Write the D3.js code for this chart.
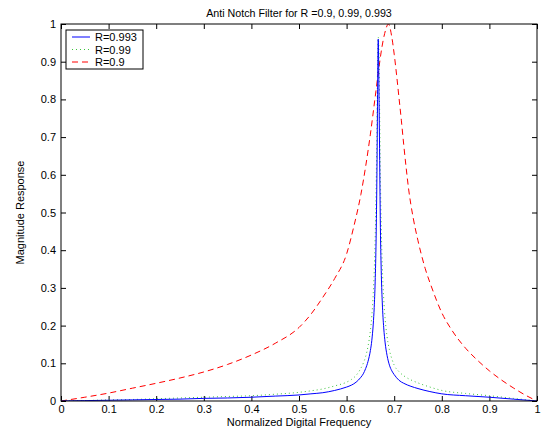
<!DOCTYPE html>
<html>
  <script src='https://d3js.org/d3.v7.min.js'></script>
  <style>
    body { margin: 0; background: #ffffff; }
    text { font-family: "Liberation Sans", Arial, sans-serif; }
  </style>
  <body onload='init()'>
<script>
      // ---------------------------
      // DATA
      // ---------------------------
      var freqNarrow = [0, 0.05, 0.1, 0.15, 0.2, 0.25, 0.3, 0.35, 0.4, 0.45, 0.5, 0.525, 0.55, 0.575, 0.6, 0.61, 0.62, 0.63, 0.635, 0.64, 0.645, 0.65, 0.653, 0.656, 0.658, 0.66, 0.662, 0.664, 0.665, 0.6665, 0.668, 0.669, 0.671, 0.673, 0.675, 0.678, 0.681, 0.685, 0.69, 0.695, 0.7, 0.71, 0.72, 0.735, 0.75, 0.775, 0.8, 0.85, 0.9, 0.95, 1];
      var magR0993 = [0, 0.001, 0.002, 0.003, 0.004, 0.005, 0.007, 0.008, 0.01, 0.013, 0.016, 0.019, 0.022, 0.028, 0.037, 0.042, 0.05, 0.063, 0.072, 0.086, 0.105, 0.134, 0.161, 0.204, 0.248, 0.316, 0.43, 0.64, 0.8, 0.96, 0.82, 0.7, 0.46, 0.333, 0.26, 0.194, 0.154, 0.121, 0.095, 0.08, 0.07, 0.055, 0.047, 0.039, 0.033, 0.025, 0.019, 0.014, 0.01, 0.005, 0];
      var magR099 = [0, 0.001, 0.003, 0.004, 0.006, 0.008, 0.01, 0.012, 0.014, 0.018, 0.023, 0.027, 0.032, 0.04, 0.05, 0.057, 0.068, 0.087, 0.1, 0.118, 0.145, 0.187, 0.226, 0.285, 0.343, 0.43, 0.56, 0.76, 0.88, 0.965, 0.92, 0.81, 0.595, 0.45, 0.358, 0.271, 0.217, 0.171, 0.135, 0.112, 0.095, 0.078, 0.067, 0.056, 0.048, 0.037, 0.028, 0.02, 0.014, 0.007, 0];
      var freqWide = [0, 0.05, 0.1, 0.15, 0.2, 0.25, 0.3, 0.35, 0.4, 0.45, 0.5, 0.525, 0.55, 0.575, 0.6, 0.615, 0.63, 0.64, 0.65, 0.66, 0.667, 0.674, 0.68, 0.688, 0.695, 0.7, 0.705, 0.71, 0.715, 0.72, 0.725, 0.73, 0.74, 0.75, 0.765, 0.78, 0.8, 0.82, 0.85, 0.875, 0.9, 0.925, 0.95, 0.975, 1];
      var magR09 = [0, 0.01, 0.021, 0.034, 0.047, 0.061, 0.077, 0.097, 0.122, 0.153, 0.195, 0.23, 0.275, 0.325, 0.39, 0.462, 0.548, 0.622, 0.708, 0.806, 0.875, 0.937, 0.975, 1.0, 0.965, 0.92, 0.865, 0.805, 0.745, 0.68, 0.62, 0.565, 0.485, 0.425, 0.352, 0.297, 0.234, 0.19, 0.14, 0.108, 0.08, 0.056, 0.035, 0.016, 0];
      var xTicks = [0, 0.1, 0.2, 0.3, 0.4, 0.5, 0.6, 0.7, 0.8, 0.9, 1];
      var yTicks = [0, 0.1, 0.2, 0.3, 0.4, 0.5, 0.6, 0.7, 0.8, 0.9, 1];
      var legendNames = ["R=0.993", "R=0.99", "R=0.9"];

      function init() {
        // ---------------------------
        // CONSTANTS
        // ---------------------------
        var canvasWidth = 545;
        var canvasHeight = 428;
        var left = 61, right = 537, top = 24, bottom = 401;
        var tickLen = 5;
        var fontSize = 11;

        var series = [
          { name: legendNames[0], x: freqNarrow, y: magR0993, colour: "#0000ff", dash: null },
          { name: legendNames[1], x: freqNarrow, y: magR099, colour: "#3cc43c", dash: "1,3" },
          { name: legendNames[2], x: freqWide, y: magR09, colour: "#ff0000", dash: "6,4" }
        ];

        var svg = d3.select("body")
          .append("svg")
          .attr("width", canvasWidth)
          .attr("height", canvasHeight);

        var xScale = d3.scaleLinear().domain([0, 1]).range([left, right]);
        var yScale = d3.scaleLinear().domain([0, 1]).range([bottom, top]);

        svg.append("defs").append("clipPath").attr("id", "plot-clip")
          .append("rect")
          .attr("x", left).attr("y", top)
          .attr("width", right - left).attr("height", bottom - top);

        // ---------------------------
        // AXES (matlab style, ticks inward on all sides)
        // ---------------------------
        svg.append("g")
          .attr("transform", "translate(0," + bottom + ")")
          .call(d3.axisBottom(xScale).tickValues(xTicks).tickSizeInner(-tickLen).tickSizeOuter(0).tickPadding(4).tickFormat(d3.format("")))
          .call(g => g.select(".domain").remove())
          .attr("font-size", fontSize);

        svg.append("g")
          .attr("transform", "translate(0," + top + ")")
          .call(d3.axisTop(xScale).tickValues(xTicks).tickSizeInner(-tickLen).tickSizeOuter(0).tickFormat(""))
          .call(g => g.select(".domain").remove());

        svg.append("g")
          .attr("transform", "translate(" + left + ",0)")
          .call(d3.axisLeft(yScale).tickValues(yTicks).tickSizeInner(-tickLen).tickSizeOuter(0).tickPadding(5).tickFormat(d3.format("")))
          .call(g => g.select(".domain").remove())
          .attr("font-size", fontSize);

        svg.append("g")
          .attr("transform", "translate(" + right + ",0)")
          .call(d3.axisRight(yScale).tickValues(yTicks).tickSizeInner(-tickLen).tickSizeOuter(0).tickFormat(""))
          .call(g => g.select(".domain").remove());

        svg.selectAll(".tick text").attr("fill", "#000000").attr("font-family", "Liberation Sans, Arial, sans-serif");
        svg.selectAll(".tick line").attr("stroke", "#000000");

        // ---------------------------
        // CURVES
        // ---------------------------
        var plot = svg.append("g").attr("clip-path", "url(#plot-clip)");
        series.slice().reverse().forEach(function(s) {
          var pts = s.x.map(function(f, i) { return [f, s.y[i]]; });
          plot.append("path")
            .datum(pts)
            .attr("d", d3.line().curve(d3.curveMonotoneX).x(d => xScale(d[0])).y(d => yScale(d[1])))
            .attr("fill", "none")
            .attr("stroke", s.colour)
            .attr("stroke-width", 1)
            .attr("stroke-dasharray", s.dash);
        });

        // box
        svg.append("rect")
          .attr("x", left).attr("y", top)
          .attr("width", right - left).attr("height", bottom - top)
          .attr("fill", "none")
          .attr("stroke", "#000000")
          .attr("stroke-width", 1);

        // ---------------------------
        // TITLES
        // ---------------------------
        svg.append("text")
          .attr("x", (left + right) / 2)
          .attr("y", 17)
          .attr("text-anchor", "middle")
          .attr("font-size", 10.7)
          .text("Anti Notch Filter for R =0.9, 0.99, 0.993");

        svg.append("text")
          .attr("x", (left + right) / 2)
          .attr("y", 426)
          .attr("text-anchor", "middle")
          .attr("font-size", fontSize)
          .text("Normalized Digital Frequency");

        svg.append("text")
          .attr("transform", "rotate(-90)")
          .attr("x", -(top + bottom) / 2)
          .attr("y", 24)
          .attr("text-anchor", "middle")
          .attr("font-size", fontSize)
          .text("Magnitude Response");

        // ---------------------------
        // LEGEND
        // ---------------------------
        var legend = svg.append("g");
        legend.append("rect")
          .attr("x", 66).attr("y", 30)
          .attr("width", 77).attr("height", 39)
          .attr("fill", "#ffffff")
          .attr("stroke", "#000000")
          .attr("stroke-width", 1);

        series.forEach(function(s, i) {
          var yy = 37 + i * 12.5;
          legend.append("line")
            .attr("x1", 72).attr("x2", 90)
            .attr("y1", yy).attr("y2", yy)
            .attr("stroke", s.colour)
            .attr("stroke-width", 1)
            .attr("stroke-dasharray", s.dash);
          legend.append("text")
            .attr("x", 95)
            .attr("y", yy + 4)
            .attr("font-size", fontSize)
            .text(s.name);
        });
      }
    </script>
  </body>
</html>
